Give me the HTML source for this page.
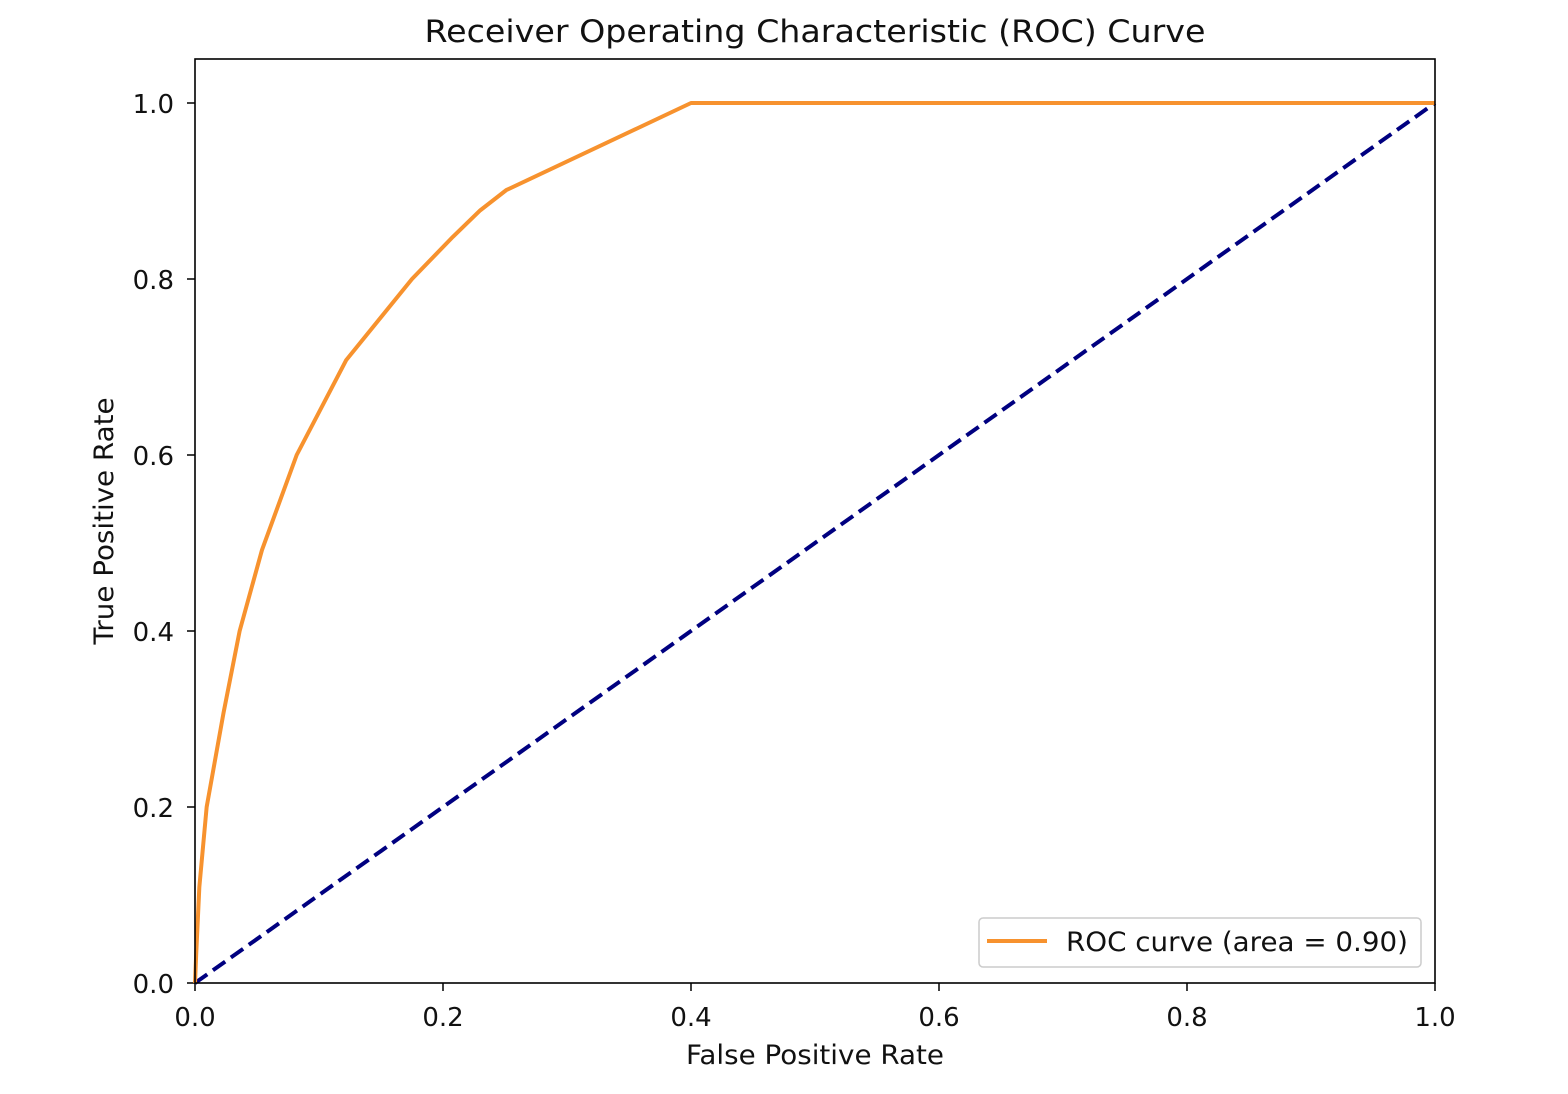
<!DOCTYPE html>
<html><head><meta charset="utf-8"><style>
html,body{margin:0;padding:0;background:#fff;}
svg{display:block;font-family:"DejaVu Sans","Liberation Sans",sans-serif;}
</style></head><body>
<svg id="chart" width="1568" height="1094">
<text x="815" y="42" font-size="31" textLength="781" lengthAdjust="spacingAndGlyphs" text-anchor="middle" fill="#111">Receiver Operating Characteristic (ROC) Curve</text>
<g id="ticks"></g>
<g id="series"></g>
<rect x="195" y="59" width="1240" height="924" fill="none" stroke="#000" stroke-width="1.6"/>
<text x="815" y="1064" font-size="27" textLength="258" lengthAdjust="spacingAndGlyphs" text-anchor="middle" fill="#111">False Positive Rate</text>
<text transform="translate(113,521) rotate(-90)" font-size="27" textLength="247" lengthAdjust="spacingAndGlyphs" text-anchor="middle" fill="#111">True Positive Rate</text>
<g>
<rect x="979" y="918" width="442" height="49" rx="4" fill="#fff" stroke="#ccc" stroke-width="1.5"/>
<line x1="987" y1="941" x2="1047" y2="941" stroke="#f7922e" stroke-width="4"/>
<text x="1066" y="951" font-size="27" textLength="342" lengthAdjust="spacingAndGlyphs" fill="#111">ROC curve (area = 0.90)</text>
</g>
</svg>
<script>
const fpr = [0, 0.001, 0.0035, 0.0094, 0.023, 0.036, 0.054, 0.082, 0.122, 0.175, 0.208, 0.230, 0.251, 0.4, 1.0];
const tpr = [0, 0.034, 0.109, 0.2, 0.307, 0.4, 0.492, 0.6, 0.708, 0.8, 0.848, 0.878, 0.901, 1.0, 1.0];
const diagX = [0, 1];
const diagY = [0, 1];
const xTicks = [0, 0.2, 0.4, 0.6, 0.8, 1.0];
const yTicks = [0, 0.2, 0.4, 0.6, 0.8, 1.0];
const NS = "http://www.w3.org/2000/svg";
const X0 = 195, X1 = 1435, Y0 = 983, Y1 = 103;
const sx = v => X0 + v * (X1 - X0);
const sy = v => Y0 - v * (Y0 - Y1);
const tg = document.getElementById('ticks');
xTicks.forEach(t => {
  const l = document.createElementNS(NS, 'line');
  l.setAttribute('x1', sx(t)); l.setAttribute('x2', sx(t));
  l.setAttribute('y1', 983); l.setAttribute('y2', 991);
  l.setAttribute('stroke', '#000'); l.setAttribute('stroke-width', '1.5');
  
  
  tg.appendChild(l);
  const tx = document.createElementNS(NS, 'text');
  tx.setAttribute('x', sx(t)); tx.setAttribute('y', 1026);
  tx.setAttribute('font-size', '26'); tx.setAttribute('text-anchor', 'middle'); tx.setAttribute('fill', '#111');
  tx.textContent = t.toFixed(1);
  
  
  tg.appendChild(tx);
});
yTicks.forEach(t => {
  const l = document.createElementNS(NS, 'line');
  l.setAttribute('x1', 187); l.setAttribute('x2', 195);
  l.setAttribute('y1', sy(t)); l.setAttribute('y2', sy(t));
  l.setAttribute('stroke', '#000'); l.setAttribute('stroke-width', '1.5');
  
  
  tg.appendChild(l);
  const tx = document.createElementNS(NS, 'text');
  tx.setAttribute('x', 174); tx.setAttribute('y', sy(t) + 10);
  tx.setAttribute('font-size', '26'); tx.setAttribute('text-anchor', 'end'); tx.setAttribute('fill', '#111');
  tx.textContent = t.toFixed(1);
  
  
  tg.appendChild(tx);
});
const sg = document.getElementById('series');
const diag = document.createElementNS(NS, 'polyline');
diag.setAttribute('points', diagX.map((v, i) => sx(v) + ',' + sy(diagY[i])).join(' '));
diag.setAttribute('fill', 'none'); diag.setAttribute('stroke', '#000080');
diag.setAttribute('stroke-width', '4'); diag.setAttribute('stroke-dasharray', '15,7');


sg.appendChild(diag);
const roc = document.createElementNS(NS, 'polyline');
roc.setAttribute('points', fpr.map((v, i) => sx(v) + ',' + sy(tpr[i])).join(' '));
roc.setAttribute('fill', 'none'); roc.setAttribute('stroke', '#f7922e');
roc.setAttribute('stroke-width', '4'); roc.setAttribute('stroke-linejoin', 'round');


sg.appendChild(roc);
</script>
</body></html>
